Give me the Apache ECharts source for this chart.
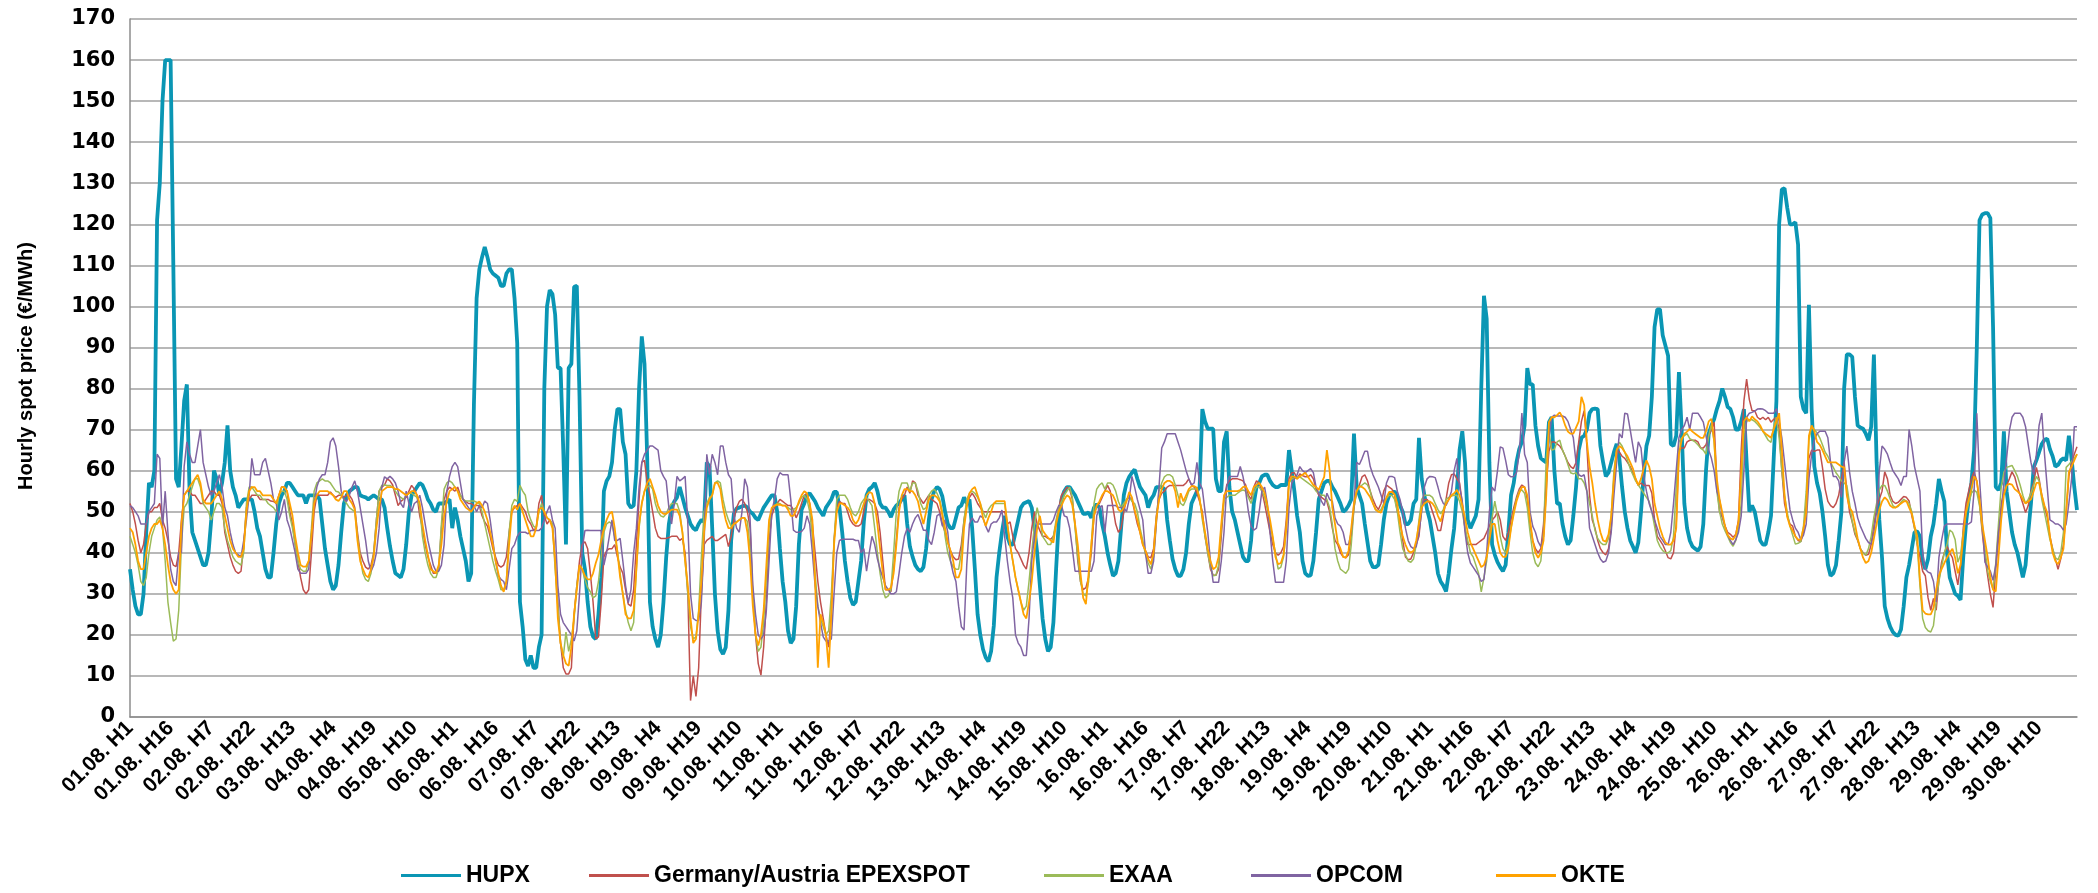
<!DOCTYPE html>
<html>
<head>
<meta charset="utf-8">
<script src="https://cdn.jsdelivr.net/npm/echarts@6/dist/echarts.min.js"></script>
<style>html,body{margin:0;padding:0;background:#fff;}#c{width:2098px;height:893px;}</style>
</head>
<body>
<div id="c"></div>
<script>
const days = ['01.08.','02.08.','03.08.','04.08.','05.08.','06.08.','07.08.','08.08.','09.08.','10.08.','11.08.','12.08.','13.08.','14.08.','15.08.','16.08.','17.08.','18.08.','19.08.','20.08.','21.08.','22.08.','23.08.','24.08.','25.08.','26.08.','27.08.','28.08.','29.08.','30.08.'];
const hours = ['H1','H2','H3','H4','H5','H6','H7','H8','H9','H10','H11','H12','H13','H14','H15','H16','H17','H18','H19','H20','H21','H22','H23','H24'];
const yTicks = [0,10,20,30,40,50,60,70,80,90,100,110,120,130,140,150,160,170];
const seriesNames = ['HUPX','Germany/Austria EPEXSPOT','EXAA','OPCOM','OKTE'];

const hupx = [
36,31,27,25,25,30,45,57,56,60,121,130,150,160,160,160,110,58,56,66,77,81,55,45,
43,41,39,37,37,40,48,60,58,54,57,62,71,60,56,54,51,52,53,53,53,53,50,46,
44,40,36,34,34,40,47,52,54,55,57,57,56,55,54,54,54,52,54,54,54,54,53,47,
41,37,33,31,32,37,45,52,54,55,55.5,56,56,54,53.7,53.5,53,53.5,54,53.5,53,53,51,46,
41.6,38,35,34.5,34,36,42,50,54,55,56,57,56.5,55,53,52,50.5,50,52,52,52,52.5,53,46,
51,48,44,41,38,33,35,76,102,109,112,114.5,112,109,108,107.5,107,105,105,108,109,109,102,91,
28,22,14,12.4,15,12,12,17,20,80,100,104,103,98,85,85,65,42,85,86,104.8,105,78,40,
36,28,22,19.6,19,25,34,55,57.5,58.6,62,70,75,75,67,64,52,51,51.5,60,80,92.7,86,63,
28,22,19,17,20,28,38.8,47,51,52.5,53.5,56,53.5,51,49,47,46,45.5,47,48,47.6,62,61,46,
30,21,16.5,15.3,17,26,43,49.5,50.8,51,51.3,51.5,51,50,49.5,48.5,48,49.5,51,52,53,54,54,50,
41,33,28,21,18,19,27,42,50.5,52,54,54.5,53.5,52.5,51,50,49,51,52,53,54.8,54.8,51,45,
38,33,29,27.3,28,33,38,47.6,54,55.5,56,57,55,52,51,51,50,48.7,50.5,51.5,52,53,54,47,
41.5,39,37,36,35.5,36.5,41,48,53,55,56,55.5,53.7,50,47,46,46,48.5,51,51.5,53.5,52,53,46,
36,25,20,16.5,14.5,13.5,16,22.3,34,40,45,49,44,42,42,45,48,51,52,52.3,52.6,51,46,40,
32,24,19,16,17,23,36,48,53,55,56,56,55,54,52.5,51,49.5,49.5,49.8,48.5,51,51.8,51,47,
44,40,37,34.4,35,38,46,54,57,58.5,59.5,60.3,58,56,55,54,51,53,54,56,56,56,55.5,48,
43,38.5,36,34.4,34.4,36,40,47,52,53.5,55,56,75,72,70.2,70.2,70.2,58,55,55,67,69.6,56,50,
48,45,42,39,38,38,43,52,56,57,58.6,59,59,57.5,56.5,56,56,56.5,56.5,56.5,65,60,55,49,
45,38,35,34.4,34.5,38,45,53,55,57,57.5,57.5,56,55,53.5,52,50,50.5,51.5,53,69,56,54,52,
47,42.5,38,36.5,36.5,37,42,48,52,54,54.5,55,53.5,51.5,50,47,47,48,52,53,68,58,54,50.5,
48,44,40,35,33,32,30.6,35,41,46,55,65,69.6,62,48,46,47.5,49,53,80,102.6,97,62,42,
39.5,37.7,36.5,35.5,37,45,54,57,62,65.2,67,71,85,81,81,71,66,63,62.5,62,71.8,73,60,52,
52,47,44,42,43,49,56,65,68,68.5,70,74,75,75.1,75,66,62,58.6,59.5,62,64.5,66.5,63,56,
50,46,43,41.5,40,42.5,50,59,66,68.5,78,95,99.3,99.3,93,90.5,88,66.5,66,68.5,84,70,52,46,
43,41.5,41,40.5,41.5,47,60,69,71,72.5,75,77,80,78,75.5,75,73,70,70,72,75,62,50,51.5,
50,46.5,43,42,42,45,49,63,77,120,128.5,128.8,124,120,120,120.5,115,78,75,74,100.4,75,61,57,
54.5,50,44,37,34.4,35,37,43,50,80,88.3,88.3,87.7,78,71,70.5,70.2,69,67.4,70.7,88.3,62,48,38.8,
27,24,22,20.7,20,19.8,21.3,27,34,37,41,45,45.2,44,38,36,38.5,44,47,52,58,55,52.5,40,
34,32,30,29.5,28.5,39,47,53,57,65,90,121,122.4,122.7,122.7,121.5,95,56,55.3,57,69.6,55,50,45,
42,40,37,34,37,45,52,60.8,62.5,64.5,66.5,67.5,67.8,65.2,63.5,61,61.4,62.5,63,62.5,68.5,63,56,50.4
];

const epex = [
52,50,47,43,40,42,47,50,50,51,51,52,48,46,43,39,37,36.6,40,48,54,55,55,54,
54,53,52,52,53,54,55,55,54,54,52,45,42,39,37,35.5,35,35.5,42,51,53,54,54,54,
53,53,53,53,52.6,52.5,52,54,56,56,55,50,47,42,38,34,31,30,31,40,50,54,54,54,
54,54,54.8,54,53.5,54,54,53.5,54,54,53,51,45,40,38,36.5,36,37,40,48,55,56,56.5,58,
57.5,56.5,54,51.5,52.5,53,53.5,55,56.4,55.5,54,49,46,42,39,37,35,35,36,46,53,55,56,55.5,
55,56,54,53,52.5,52,52,51.5,51.5,51.5,49,47.5,46.5,44,41,39,37,36.5,37,39,45,50,51,51.5,
52,51,50,48,47,45.5,46,52,54,49,47,48,47,38,28,18,12,10.5,10.5,12,25,32,38,42,
42.7,41,35,28,19,19.5,28,39,40.5,41,41,42,39,36.5,35,31,27.5,27,31,42,53,62,62.5,57,
54,50,46,44,43.5,43.5,43.5,43.7,44,44,44,43,43.5,40,30,4,10,5,12,30,42,43,43.5,44,
43,43,43.5,44,44.5,41.5,44,48,51,52.5,53,52,50,46,30,20,13,10.2,17,28,43,49,51,52,
53,52.5,52,51.5,51.5,50.5,48.5,50,52,54,54.5,52,47,40,33,28,24,20,17,25,43,51,52.5,52,
52,50,48,47,46.5,46.5,47,50,53,53,52.6,52,50,45,38,31,31,30.5,36,43,51,53,54,56,
54.5,57.5,57,54,53,52,53,54,53,52.5,52,50,47,45,42.5,40.5,39,38.3,38.5,42,48,52,53.5,54.5,
53.5,52,51,50,50,50,50,50,50,50,50,50,47,47.5,44,41,40,38.5,37,36,40,46,50,47,
45.4,44,44,43.5,43.3,44,47,51,54,55,56,55.5,53,47,38,33,31,31.5,34,40,49,51.5,52,53.5,
55,56.4,55,51,47,45,46,50,53,53.5,53,50,47,45,42,40.5,39,38.8,41,49,53,54.5,55,56,
56.4,56.4,56.4,56.4,56.4,56.4,57,58,56.5,56,54.5,52.5,50,44,40,36,34.5,34.5,36,44,53,56.5,57.5,58,
58,58,57.8,57.5,56.5,54,53,56,57.5,57,55,52,48.5,45,42,40,39.4,40,41.5,48,58,59.5,59.5,58,
59.2,58.8,58.5,58.5,59,58,55.5,54,53.5,53,52.5,50,46,43,42,40,39,38.8,39.5,44,51,55,56.5,58.5,
59,57.5,55,53,51.5,50.5,52,55,56.5,56,55.5,54,50,48.5,43,39,38.3,38.5,40,42,44,51,53,53,
52,50,48,45.4,45.4,49,53,57,59,59.2,58,57,52,46,42,42,42,42,42.5,43,43.5,45,46.5,48,
48.7,50,48,44,43,45,48,51,53.5,55.5,56.5,56,53,47,43,41,40,41,47,57,64.7,67,67,66.5,
66,65,63.5,62,61,60.5,62,67,72,74.6,66,54,48,46,43,41,40,39.5,41,46,58,65,64.5,63.5,
63,62,61,59.5,58,56.4,57,56.4,56.4,56.4,54.5,48,44,43,42,40.5,38.8,38.5,40,47,65,65.5,65.5,67,
67.4,67.4,67.4,67,65.5,65.5,66.3,68.5,70,71.8,57,50,48.7,46.5,45,44.5,43.8,44.5,48,65,77,82.3,77.3,74.6,
74.6,73,72.5,73,72.4,73,71.8,72.5,73,70,60,52,49,47,46.5,44,43,42.7,45,52,63,65,64.7,65,
65,60.8,55.5,52.5,51.5,51,52,54,58,62,55,50,47.5,44.5,43,41,40,39.4,39.6,42,47,51,53,55,
59.7,58,54,52.5,52,52.3,53,53.7,53.5,52.6,49,46,42,39,35.5,34.4,29,26,28.9,26,33.3,37.7,40,41.6,
40,38.8,35.5,32.2,37,46,52,55,58,59.7,57.5,52,45,39,34.4,30,26.7,36,43.2,52,54.5,56.4,58,59.7,
58.5,56,54,52,49.8,51.5,55,57,60.8,58,54,51,48.7,44,41,38.5,36,38.5,42,50,58.6,62,64,65.8
];

const exaa = [
44,42,40,37,33,32,34,40,44,46,48,48.7,46,38,28,23,18.5,19,26,42,51,52,54,56,
58,58,56,52,51,50,48,50,52,52,51,46,43,41,39,38,37.5,37,40,52,56,56,55,54,
54,53,53,52,51.5,51,50,54,55,55,53,49,46,42,38,36,35.5,35.5,38,46,55,57,57.5,58,
57.5,57.5,57,56,55,54.8,54,53,52,51,50.5,50,44,39,35,33.5,33,35,40,48,55,56.4,56.5,56.4,
56.4,56,55,54,53.5,53,54,54.5,54.5,54,53.5,51,44,40,37,35,34,34,36,47,55.5,57,57.5,57,
56,55,54,53,52.6,52.6,52.6,52.6,52.3,52,50,47,44,41,38,35.5,33.5,31,31,33,45,51.5,53,52.5,
56.4,55,54,50,48,46.5,46,50,52,50,48.5,48,47,36,27,18,14.6,20.7,16,19,24,32,36.6,36,
33.5,31.5,30.5,29,29.5,33,39,45,47,47.5,47,44,40.5,35,30,26,23,21,23,36,46,52,55,56,
56.4,55.5,52,50,49,48.7,49.5,51,52,52,52,50,45,38,30,22,19,19.5,26,39,50,52,53.5,54,
57,57.5,57,53,50,48,46.5,47,47.6,48,48.5,48.5,47.6,41,30,20,16,17,23,34,46,50.5,51.5,52,
52,51.5,51.5,51,50.5,50.5,51,52,53.5,54,53,50,44,35,27,24,22,20,21,30,43,53,54,54,
54,53,51,49.5,49,50,52,53,53.5,52.5,51.5,46,40,35,31,29,29.5,31,40,50,55,57,57,57,
55,57,57,55,52,50.5,51,54,55,55.5,54.5,53,50,44,40,38,36.5,36,36,40,48,53,54.5,55,
54.5,53.5,52,50,48.5,50.5,51.5,52,52,52,52,52,47,42,38,34,31,28,26,27,33,40,47,51,
48,44,43,42,42,44,48,51,52.5,54,55,56,53.5,46,39,33,30,29.5,33,42,52,55.5,56.5,57,
55.5,57,57,56.5,55,52.5,51,52,53,53.5,52.5,52,50,46,43,39.5,37.5,36,39,48,55,57,58.5,59,
59,58.5,56.5,54,52,51.5,53,55,55.5,55.5,55.5,53.5,48,44,40,36.5,34.4,34.5,37,46,53,53.5,54,54,
54,54.5,55,55.3,55,53.5,52,54.5,56,56,55,53.5,50.5,47,43.5,40,36,36.5,39,46,57,58,58,58.5,
58.5,58,57.5,57,56.5,56,55,54.5,54,54,53,51,47,41,38,36,35.5,35,36,42,51,55,56,56.5,
57,56.5,55,52,50.5,50,50.5,52,53.2,54,54,53,50,45,41,39.5,38,37.7,38.5,42,48,53,54,54,
54,53.5,52,50.5,49.5,50.5,53,53.5,53.8,54,54,52.5,50,46,43,40,39,37,35,30.5,34,38,45,48.5,
52.6,49,44,41,40,42,46,50,53,55,55.3,54.5,51,45,40,37.5,36.6,38,45,63,69.6,65,65.2,67,
67.4,65,63.5,61.5,59.5,59.2,59.5,58,58,57,55,52,49,45.5,43.5,42.5,42,42,43.5,49,60,65,66.9,66,
64.5,62.5,60.5,59,57.5,56.5,55.5,54.5,53.5,52.5,50,46.5,43,41.5,40.5,40,40,40.5,44,56,67,68,68.5,69,
67.8,67.4,67,66.3,65.5,65,64,68.5,71.3,67,55,50,47,45.4,44,42.5,41.6,43,46,52,69,72,72.4,72.4,
72,71.3,70.5,69.6,68.5,67.4,66.9,70.7,73,68,60,54,49.8,46.5,44.3,42.1,42.3,42.7,46.5,55,67.4,70.7,70,69.2,
68,66.3,64.5,63.5,62,60.8,59.5,58.6,57.5,57,56.4,52,47.6,45,43.2,41,39.9,39.4,41,44,48.7,52,55.3,56.4,
56.4,55,53.1,51.5,51,51.3,52.3,53,52.6,52,50,46,42,32,24,21.8,21,20.7,22.3,28,33,36.6,40,42,
45.5,45,43.2,37.7,39.5,45,49.5,52,54.5,55.3,54.7,51.5,46,41,35.5,33,31.1,37.5,47,56,59.5,60.8,61,61.3,
60,58.6,56.5,54,52,53,54.5,56.5,58.6,57.5,53,49.8,46.5,43.2,41,38.8,38.3,40,45,60.8,61.5,62.3,63,64
];

const opcom = [
51.5,51,50,49,47,47,47,50,51,52,64,63,46,55,45,36,33,32,40,40,61,67,64,62,
62,66,70,62,59,56,54,55,57,59,56,51,49,45,42,40,39.5,39,43,48,54,63,59,59,
59,62,63,60,57,53,52,48,50,53,48,46,43,40,36,35,35,35,36,44,52,56,58,59,
59,62,67,68,66,61,55,53,52.5,54,56,57.5,55,51,47,43,38,35.5,37,40,46,56,58.5,58,
58.6,58,57,55,52,51,55,52,50,52,52.5,54,51,47,43,40,37,35.5,35.5,37,42,55,58.6,61,
62,61,57,53,52,51,50,51.5,50,51.5,51,52.6,52,48,43,38,34.5,33.5,33,31,36,41,42,44,
45,45,45,44.6,45.4,45.4,45.4,45.4,46,48,50,51.5,48,46,32,25,23,22,21,20,18.5,21,30,41,
45.4,45.5,45.4,45.4,45.4,45.4,45.4,37,40,44,48,43,43,43.5,38,32,27.8,31,40,46,56,62,64,65,
66,66,65.5,65,60,58.6,57.5,51,47,52,58.6,57.5,58,58.6,47,30,24,23.5,23.5,28,42,64,59,64,
62,59,66,66,62,59,58,49,46,45,50,58,56,48,32,25,20,19,20,26,38,50,53,58,
59.5,59,59,59,53,45.5,45,45,45.2,46,49,47,40,32,27,23,19.5,18.5,18.5,19,30,40,43,43.3,
43.3,43.3,43.3,43.3,43,43,40,41,35.5,40,44,42,38.5,36,34,32,31,30,30,30.5,35,40,44,46,
45,47,48.5,49.3,47.5,45.5,45.5,43,42,45,49,49.5,46.5,48,45,38,35,33,27,22,21.2,37,47,48.5,
47.5,47.5,49,48.5,46.5,45,47,47.5,47.5,48.5,50.4,44,38,33,29,20,18,17,15,15,24,38,44,47,
47,47,47,47,47,48,50,51.5,51.5,49,48.7,46,41,35.5,35.5,35.5,35.5,35.5,35.5,35.5,38,49,51,51.5,
45,51.5,51.5,51.5,51.5,51,51,51,50,53,58.6,56,53,50.5,48,40,35,35,38,47,56,65.5,67,69,
69,69,69,67,65,62.5,60,58,56.5,57,62,57,55.5,50,45,38,32.8,32.8,32.8,38,45,56,58.6,58.6,
58.6,58.6,61,58.6,55,50,46.5,45.5,46,50,55,56,52,45,38,32.8,32.8,32.8,32.8,38,51,57,58,59,
61,60,59.5,60,60.5,59.5,56,54.5,52.5,51.5,54.5,53,52.5,48.5,47,46.5,45,42,42,45,52,62,61.5,63,
64.7,64.7,61,59,57.5,56,54,52,57,58.6,58.6,58.3,55,53,50,46,43,41.5,41,41.5,45,50,56,58,
58.6,58.5,58.3,56,53.5,52,51.5,53,55,60,63,56,52.5,45,40,37.5,36.5,35.5,34.5,33,33.5,40,50,56,
55,60,65.8,65.5,62.5,59,58.5,58.6,59.5,64,74,64,62,50,46.5,45,42.7,41.5,44,55,68,73,73.5,73.3,
73.3,73.3,73,72,70,68,62,59,58.6,59,55,46,44,42,40,38.5,37.7,38,40,45,54,62,69,68,
74,73.8,70,66,62,67,65.5,58.6,55,52,50,48,46,44,43,42,42,45,52,60,68,70,71,73,
70,74,74,74,73,71.8,68.5,65,63,60,55,53,49,46.5,44.3,43,42,43.2,45,49,60,73,74,74.2,
74.5,75,75.1,75,74.6,74,74,74,75.1,72,68,62,56,50.5,48,46,45,43.2,44.3,47,58,64,67.4,69,
69.6,69.6,69.6,68,62,58.6,58.6,57.5,53.5,62,66,59.7,55,52,48.5,46.5,45,43.5,42.5,42.1,45,50,60,66,
65.2,64,61.9,60,59,58,56.4,58.6,58.6,70,66,61,58,55,40,36,35.3,35,33,28,38.8,43,46.5,47,
47,47,47,47,47,47,47,47,47.5,55,74,58,48,37.7,36.5,35.5,33.3,37,45,49.8,57,63,69.6,73,
74,74,74,73,70.7,66.3,62,59,64,71,74,64,56,48,47.6,47,47,46.5,45.5,47,52,58,70.7,70.7
];

const okte = [
46,45,42,38,36,36,40,44,46,47,47,48,46,42,37,33,31,30,31,47,54,55,56,57,
58,59,57,53,52,52,52,53,54,55,53,49,46,43,41,40,39,39,41,50,55,56,56,55,
55,54,54,54,54,53,52,54,56,56,55,52,49,44,40,37,36.6,36.6,38,44,52,54,55,55,
55,55,54.5,54,53,52.6,53.5,55,55,53,52,50.5,43,38,36,34.5,34,36,39,46,51,55,55.5,56,
56,56,55.5,55.5,55,54.5,54,54.5,55,55,54,52,47,43,39.5,36,35.5,35,37,42,49,52.5,55,55.5,
56,55,53,52,51,50.5,50,51,52,52.5,51.5,50,48,45,42,38,35,32,30.5,33,42,50,51.5,50.5,
52,50,48,46,44,44,46,50.5,51,50,48.5,48,46,38,24,18,15,13,12.5,17,25,31,37,36,
34.4,33.5,33.5,35,37.5,39.5,43,46,48,49.5,50,46,40,34,30,25,24,24,26,36,47,52,55,57,
58,56,54,51.5,50,49.5,49.5,50,50.5,50.5,50.5,49,45,38,32,24,18,19,25,33,45,51,53,54,
57,57,55.5,51,48,46,46,47,47.4,48,48.5,48.5,45,38,27,20,17.4,20,26,37,48,51,51.5,51.7,
51.7,51.5,51.5,50.5,49,49,50.5,52.5,54,55,54.5,52,48,33,12,25,23,20,12,25,42,50,52,52,
51.5,51,50,48,47,48,50,52,54,54.8,54.5,52,47,41,35,31,31,31.5,35,42,50,54,55.5,55.5,
55,55,54,52.5,49.5,47,50,53,54,54,53.5,52.5,49,46,42.5,40.5,38,34,34,36,46,51,54.5,55.5,
56,54,52,48.5,46.5,48.5,50,52,52.6,52.6,52.6,52.6,47,42,38,34,31,28,25,24,28,33,40,46,
49,45.5,44.5,43.7,43,42.5,47,50,51.5,53,54,53.5,51.5,47,42,35,29,27.5,35,42,49,51.5,52.5,54,
55,55,54.5,54,52.5,50.5,50,51,52.5,54.8,53.5,50.5,48,45,42,40.5,38.5,37.2,40,48,53,55.5,57,57.5,
57.5,57,55,51,54.5,52.5,54,55.5,56.2,56.2,55.8,53,49,45,41,38,36,36.5,39,47,54,55,55,55,
55,55,55.3,56,56.2,55,54,56,56.5,57,56,54.5,51.5,48,44,39,37.2,37.5,39.5,46,57,58.6,58.5,58,
58.6,59,59.5,58.5,57.5,56.5,56,55.3,57,58.5,65,60,51,47,42.5,41,39,38.8,40.5,46,52,55,56.2,56,
55.5,54.5,53.5,52,50.5,50,49.8,51.5,53.5,54.8,54.8,54.2,52,47,44,42,40.5,40,40.5,43,47,51,52,52.5,
52.5,52,51,49,47.6,50,52,53,54,54.5,55.3,54,51.5,48.5,45,42.5,41,39.5,38,36.5,37,39,43,47,
47,43,40,39,39,41,46,49.5,52.5,54.5,56,56,54,48,43,40,38.8,40,43,54,71.8,73,73,73.5,
74.2,73,71,69.5,69,69,70.5,72,78,76,67,61,57,52,48,45,43,42.7,44.5,49,58,65,66,65.5,
64.5,63.5,62,60.5,58,56.5,58,60.5,62.5,61,58,52,49,46,44,42.5,42,42,43,46,64,67.5,69,69.5,
70.2,69.5,69,68.5,68,68,69.6,72,72.6,67.4,58,53,49.8,46.5,44.3,43.5,43.2,44.3,47.6,60,72,73,72,73.2,
72.5,72,71,69.6,69,68.5,68,70,72,74,65.2,54,48.7,46.5,45.4,44,43.2,43.2,46,49.8,68.5,71,69.6,67,
66.3,65,63.5,62,62,62,62,61.5,61,60.8,54,51,50,47,43.5,41,38.8,37.5,38,40,43.5,47,50.5,52.5,
53.5,52.8,51.5,51,51,51.5,52,52.5,52.6,51,49.5,46.5,44,33.5,26,25.2,25,25,26.5,31,34.5,36,37.5,38.8,
40,41,38.8,35,37,44,50,53,55.5,58.6,57.5,53,47,43,39,34,31,30.6,38.8,48,54,56.4,56.8,56.6,
55.5,55,54.3,53,52,52.5,53,55,57,57,54,51.5,49.8,44,40,38,37.2,38.8,41,50,59.7,61,62.5,64
];

const categories = [];
days.forEach(function (d) { hours.forEach(function (h) { categories.push(d + ' ' + h); }); });

const colors = ['#0a96b4', '#c0504d', '#9bbb59', '#8064a2', '#ffa200'];
const widths = [3.8, 1.5, 1.5, 1.5, 1.8];
const dataSets = [hupx, epex, exaa, opcom, okte];

const legendLeft = [401, 589, 1044, 1251, 1496];

const chart = echarts.init(document.getElementById('c'), null, { renderer: 'canvas' });

const warn = [];
dataSets.forEach(function (a, k) { if (a.length !== categories.length) warn.push(seriesNames[k] + ':' + a.length); });

const option = {
  animation: false,
  backgroundColor: '#ffffff',
  grid: { left: 130, right: 21, top: 19, bottom: 176, containLabel: false },
  xAxis: {
    type: 'category',
    data: categories,
    boundaryGap: false,
    axisLine: { show: true, lineStyle: { color: '#8c8c8c', width: 1.5 } },
    axisTick: { show: false },
    splitLine: { show: false },
    axisLabel: {
      interval: 14,
      rotate: 45,
      margin: 8,
      color: '#000',
      fontFamily: 'Liberation Sans, Arial, sans-serif',
      fontWeight: 'bold',
      fontSize: 21,
      hideOverlap: false
    }
  },
  yAxis: {
    type: 'value',
    min: yTicks[0],
    max: yTicks[yTicks.length - 1],
    interval: 10,
    axisLine: { show: true, lineStyle: { color: '#8c8c8c', width: 1.5 } },
    axisTick: { show: false },
    splitLine: { show: true, lineStyle: { color: '#a0a0a0', width: 1.5 } },
    axisLabel: {
      margin: 15,
      color: '#000',
      fontFamily: 'DejaVu Sans, sans-serif',
      fontWeight: 'bold',
      fontSize: 21
    }
  },
  legend: seriesNames.map(function (n, k) {
    return {
      data: [n],
      left: legendLeft[k],
      top: 864,
      padding: 0,
      icon: 'rect',
      itemWidth: 60,
      itemHeight: 3,
      itemGap: 5,
      selectedMode: false,
      textStyle: { color: '#000', fontFamily: 'Liberation Sans, Arial, sans-serif', fontWeight: 'bold', fontSize: 23 }
    };
  }),
  graphic: [{
    type: 'text',
    x: 26,
    y: 366,
    rotation: Math.PI / 2,
    style: {
      text: 'Hourly spot price (€/MWh)',
      fill: '#000',
      font: 'bold 20px "Liberation Sans", Arial, sans-serif',
      align: 'center',
      verticalAlign: 'middle',
      textAlign: 'center',
      textVerticalAlign: 'middle'
    }
  }].concat(warn.length ? [{ type: 'text', left: 300, top: 30, style: { text: 'LEN ' + warn.join(' '), fill: 'red', font: '20px sans-serif' } }] : []),
  series: seriesNames.map(function (n, k) {
    return {
      name: n,
      type: 'line',
      data: dataSets[k],
      symbol: 'none',
      showSymbol: false,
      smooth: false,
      z: 2 + k,
      lineStyle: { color: colors[k], width: widths[k] },
      itemStyle: { color: colors[k] },
      emphasis: { disabled: true }
    };
  })
};

chart.setOption(option);
</script>
</body>
</html>
